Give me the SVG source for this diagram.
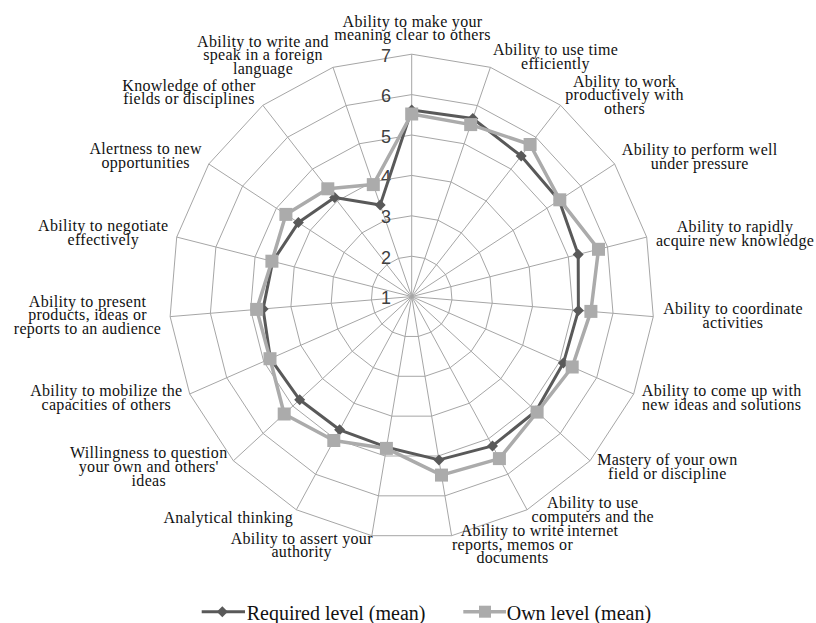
<svg xmlns="http://www.w3.org/2000/svg" xmlns:xlink="http://www.w3.org/1999/xlink" width="816" height="623" viewBox="0 0 816 623">
<style>
.grid{fill:none;stroke:#a6a6a6;stroke-width:1}
.lbl{font-family:"Liberation Serif","Times New Roman",serif;font-size:16px;letter-spacing:0.3px;fill:#111;text-anchor:middle}
.num{font-family:"Liberation Sans",Arial,sans-serif;font-size:18px;fill:#404040;text-anchor:middle}
.req{fill:none;stroke:#595959;stroke-width:3;stroke-linejoin:round}
.own{fill:none;stroke:#ababab;stroke-width:3.5;stroke-linejoin:round}
.leg{font-family:"Liberation Serif","Times New Roman",serif;font-size:20px;fill:#111}
</style>
<defs>
<polygon id="ring" class="grid" vector-effect="non-scaling-stroke" points="0,-242.4 78.71,-229.27 148.88,-191.29 202.93,-132.58 234.98,-59.51 241.57,20.02 221.98,97.37 178.34,164.17 115.37,213.18 39.9,239.09 -39.9,239.09 -115.37,213.18 -178.34,164.17 -221.98,97.37 -241.57,20.02 -234.98,-59.51 -202.93,-132.58 -148.88,-191.29 -78.71,-229.27"/>
<path id="dia" d="M0,-5.5L5.5,0L0,5.5L-5.5,0Z" fill="#595959"/>
<rect id="sq" x="-6.5" y="-6.5" width="13" height="13" fill="#ababab"/>
</defs>
<rect width="816" height="623" fill="#fff"/>
<g id="grid" transform="translate(411.7,296.6)">
<use href="#ring" transform="scale(0.166667)"/>
<use href="#ring" transform="scale(0.333333)"/>
<use href="#ring" transform="scale(0.5)"/>
<use href="#ring" transform="scale(0.666667)"/>
<use href="#ring" transform="scale(0.833333)"/>
<use href="#ring"/>
<path class="grid" d="M0,0L0,-242.4M0,0L78.71,-229.27M0,0L148.88,-191.29M0,0L202.93,-132.58M0,0L234.98,-59.51M0,0L241.57,20.02M0,0L221.98,97.37M0,0L178.34,164.17M0,0L115.37,213.18M0,0L39.9,239.09M0,0L-39.9,239.09M0,0L-115.37,213.18M0,0L-178.34,164.17M0,0L-221.98,97.37M0,0L-241.57,20.02M0,0L-234.98,-59.51M0,0L-202.93,-132.58M0,0L-148.88,-191.29M0,0L-78.71,-229.27"/>
</g>
<g id="axis-values">
<text class="num" x="386" y="304.1">1</text>
<text class="num" x="386" y="263.7">2</text>
<text class="num" x="386" y="223.3">3</text>
<text class="num" x="386" y="182.9">4</text>
<text class="num" x="386" y="142.5">5</text>
<text class="num" x="386" y="102.1">6</text>
<text class="num" x="386" y="61.7">7</text>
</g>
<g id="connectors">
<g id="series-required">
<polygon class="req" points="411.7,110 472.8,118.5 521.2,156 559.1,200.3 578.2,254.5 578.4,310.4 563.4,363.1 536,411 492.5,445.9 439,459.9 386.6,447.2 339.6,429.8 299.7,399.8 270.4,358.6 263.1,308.9 272.7,261.4 298.4,222.6 334.6,197.5 380.2,204.9"/>
<use href="#dia" x="411.7" y="110"/><use href="#dia" x="472.8" y="118.5"/><use href="#dia" x="521.2" y="156"/><use href="#dia" x="559.1" y="200.3"/><use href="#dia" x="578.2" y="254.5"/><use href="#dia" x="578.4" y="310.4"/><use href="#dia" x="563.4" y="363.1"/><use href="#dia" x="536" y="411"/><use href="#dia" x="492.5" y="445.9"/><use href="#dia" x="439" y="459.9"/><use href="#dia" x="386.6" y="447.2"/><use href="#dia" x="339.6" y="429.8"/><use href="#dia" x="299.7" y="399.8"/><use href="#dia" x="270.4" y="358.6"/><use href="#dia" x="263.1" y="308.9"/><use href="#dia" x="272.7" y="261.4"/><use href="#dia" x="298.4" y="222.6"/><use href="#dia" x="334.6" y="197.5"/><use href="#dia" x="380.2" y="204.9"/>
</g>
<g id="series-own">
<polygon class="own" points="411.7,114 470.7,124.6 530.1,144.5 559.8,199.8 598.5,249.3 590.9,311.4 572.2,367 537.1,412.1 499.4,458.6 441.5,475.1 386.4,448.4 333.8,440.5 284.2,414 270,358.7 256.7,309.4 271.9,261.2 285.9,214.4 327.8,188.8 373.3,184.6"/>
<use href="#sq" x="411.7" y="114"/><use href="#sq" x="470.7" y="124.6"/><use href="#sq" x="530.1" y="144.5"/><use href="#sq" x="559.8" y="199.8"/><use href="#sq" x="598.5" y="249.3"/><use href="#sq" x="590.9" y="311.4"/><use href="#sq" x="572.2" y="367"/><use href="#sq" x="537.1" y="412.1"/><use href="#sq" x="499.4" y="458.6"/><use href="#sq" x="441.5" y="475.1"/><use href="#sq" x="386.4" y="448.4"/><use href="#sq" x="333.8" y="440.5"/><use href="#sq" x="284.2" y="414"/><use href="#sq" x="270" y="358.7"/><use href="#sq" x="256.7" y="309.4"/><use href="#sq" x="271.9" y="261.2"/><use href="#sq" x="285.9" y="214.4"/><use href="#sq" x="327.8" y="188.8"/><use href="#sq" x="373.3" y="184.6"/>
</g>
</g>
<g id="label-0" class="lbl"><text class="lbl" x="412.5" y="26.5">Ability to make your</text><text class="lbl" x="412.5" y="40">meaning clear to others</text></g>
<g id="label-1"><text class="lbl" x="555.5" y="55">Ability to use time</text><text class="lbl" x="555.5" y="68.5">efficiently</text></g>
<g id="label-2"><text class="lbl" x="624.5" y="86.7">Ability to work</text><text class="lbl" x="624.5" y="100.4">productively with</text><text class="lbl" x="624.5" y="114">others</text></g>
<g id="label-3"><text class="lbl" x="699.7" y="155">Ability to perform well</text><text class="lbl" x="699.7" y="169">under pressure</text></g>
<g id="label-4"><text class="lbl" x="735" y="232">Ability to rapidly</text><text class="lbl" x="735" y="245.7">acquire new knowledge</text></g>
<g id="label-5"><text class="lbl" x="733" y="314.3">Ability to coordinate</text><text class="lbl" x="733" y="327.5">activities</text></g>
<g id="label-6"><text class="lbl" x="721.7" y="396">Ability to come up with</text><text class="lbl" x="721.7" y="409.5">new ideas and solutions</text></g>
<g id="label-7"><text class="lbl" x="667.3" y="465">Mastery of your own</text><text class="lbl" x="667.3" y="479">field or discipline</text></g>
<g id="label-8"><text class="lbl" x="592.7" y="508.3">Ability to use</text><text class="lbl" x="592.7" y="522.3">computers and the</text><text class="lbl" x="592.7" y="536">internet</text></g>
<g id="label-9"><text class="lbl" x="512.5" y="536">Ability to write</text><text class="lbl" x="512.5" y="549.5">reports, memos or</text><text class="lbl" x="512.5" y="562.7">documents</text></g>
<g id="label-10"><text class="lbl" x="301.7" y="543.5">Ability to assert your</text><text class="lbl" x="301.7" y="557">authority</text></g>
<g id="label-11"><text class="lbl" x="228.3" y="522.7">Analytical thinking</text></g>
<g id="label-12"><text class="lbl" x="148.8" y="458.3">Willingness to question</text><text class="lbl" x="148.8" y="472.3">your own and others'</text><text class="lbl" x="148.8" y="486">ideas</text></g>
<g id="label-13"><text class="lbl" x="106.3" y="396">Ability to mobilize the</text><text class="lbl" x="106.3" y="409.5">capacities of others</text></g>
<g id="label-14"><text class="lbl" x="87.5" y="306.7">Ability to present</text><text class="lbl" x="87.5" y="320">products, ideas or</text><text class="lbl" x="87.5" y="333.5">reports to an audience</text></g>
<g id="label-15"><text class="lbl" x="103.3" y="231">Ability to negotiate</text><text class="lbl" x="103.3" y="244.5">effectively</text></g>
<g id="label-16"><text class="lbl" x="145.7" y="154.3">Alertness to new</text><text class="lbl" x="145.7" y="168">opportunities</text></g>
<g id="label-17"><text class="lbl" x="189" y="90.7">Knowledge of other</text><text class="lbl" x="189" y="104.3">fields or disciplines</text></g>
<g id="label-18"><text class="lbl" x="263" y="46.8">Ability to write and</text><text class="lbl" x="263" y="60.3">speak in a foreign</text><text class="lbl" x="263" y="73.8">language</text></g>
<g id="legend">
<path d="M201.7,611.7H245" stroke="#595959" stroke-width="3"/>
<use href="#dia" x="222.3" y="611.7"/>
<text class="leg" x="246.7" y="619.5">Required level (mean)</text>
<path d="M463.3,611.7H506" stroke="#ababab" stroke-width="3.5"/>
<rect x="479" y="605.7" width="12" height="12" fill="#ababab"/>
<text class="leg" x="506.7" y="619.5">Own level (mean)</text>
</g>
</svg>
